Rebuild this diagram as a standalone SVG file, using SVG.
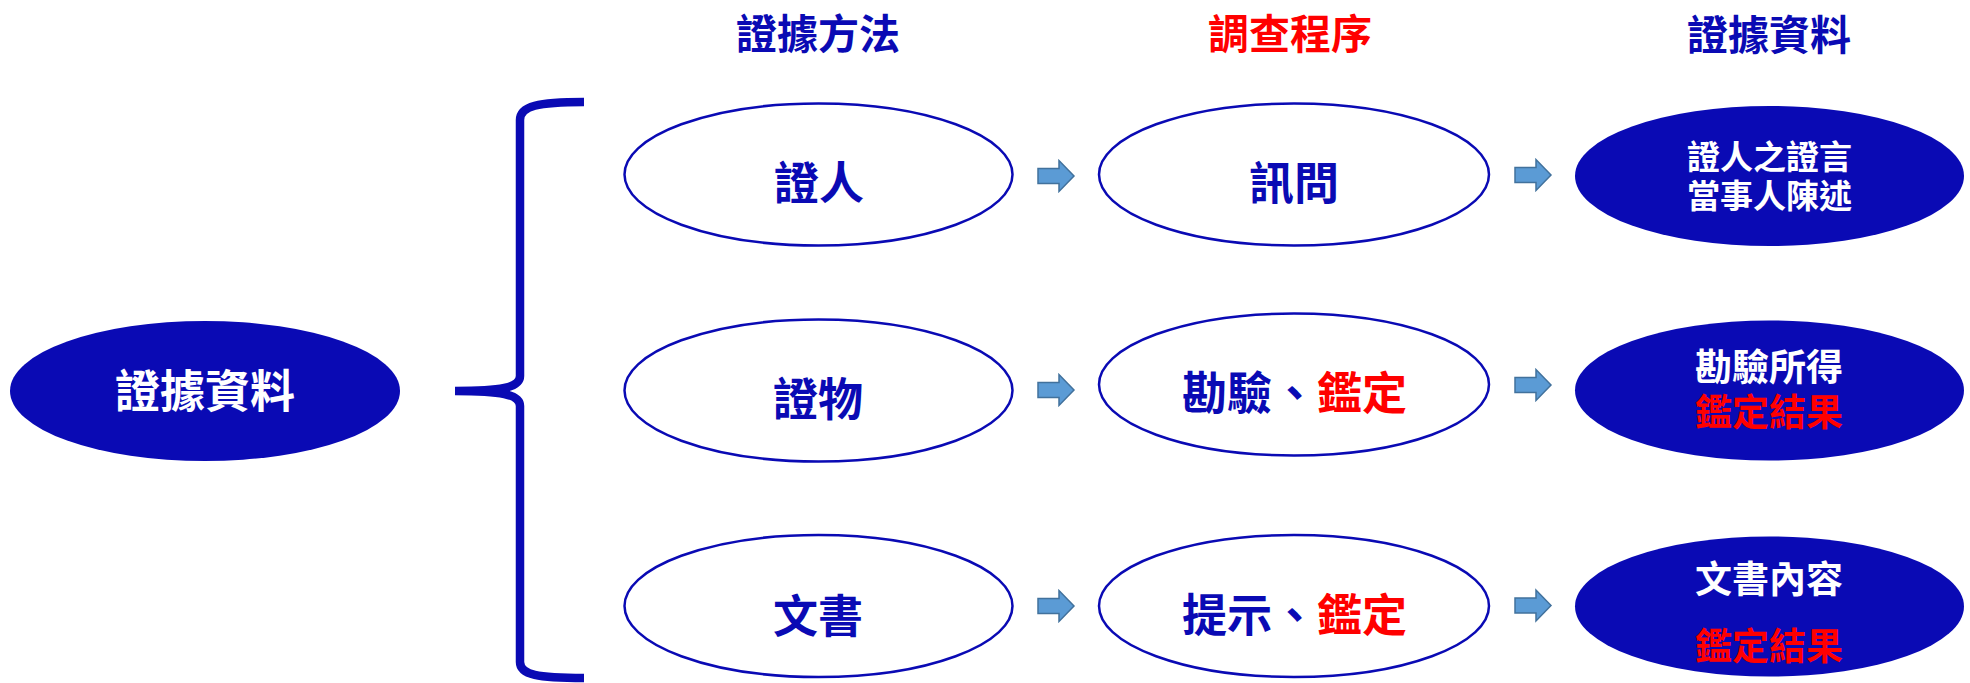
<svg xmlns="http://www.w3.org/2000/svg" xmlns:xlink="http://www.w3.org/1999/xlink" width="1970" height="683" viewBox="0 0 1970 683">
<style>
text{font-family:"Noto Sans CJK TC","Noto Sans CJK SC",sans-serif;font-weight:bold;text-anchor:middle}
.b{fill:#0a0ab4}
.r{fill:#ff0000}
.w{fill:#ffffff}
.o{fill:#ffffff;stroke:#0a0ab4;stroke-width:2.5}
.f{fill:#0a0ab4}
.h{font-size:41px}
.m{font-size:45px}
</style>
<defs>
<path id="arr" d="M0,-7.5 H21 V-15.5 L36,0 L21,15.5 V7.5 H0 Z" fill="#5b9bd5" stroke="#41719c" stroke-width="1.5"/>
</defs>
<rect width="1970" height="683" fill="#ffffff"/>
<g id="headings">
<text class="h b" x="818" y="49">證據方法</text>
<text class="h r" x="1290" y="49">調查程序</text>
<text class="h b" x="1769" y="50">證據資料</text>
</g>
<g id="root">
<ellipse class="f" cx="205" cy="391" rx="195" ry="70"/>
<text class="m w" x="205" y="408">證據資料</text>
</g>
<g id="connectors">
<path d="M584,102 C538,102 520,106 520,120 L520,376 C520,388 500,391 455,391 C500,391 520,394 520,406 L520,662 C520,675 538,678 584,678" fill="none" stroke="#0a0ab4" stroke-width="8.5"/>
<use xlink:href="#arr" x="1038" y="176"/>
<use xlink:href="#arr" x="1515" y="175"/>
<use xlink:href="#arr" x="1038" y="390"/>
<use xlink:href="#arr" x="1515" y="385"/>
<use xlink:href="#arr" x="1038" y="606"/>
<use xlink:href="#arr" x="1515" y="605.5"/>
</g>
<g id="witness">
<ellipse class="o" cx="818.5" cy="174.5" rx="194" ry="71"/>
<text class="m b" x="819" y="200">證人</text>
</g>
<g id="physical">
<ellipse class="o" cx="818.5" cy="390.5" rx="194" ry="71"/>
<text class="m b" x="818" y="416">證物</text>
</g>
<g id="document">
<ellipse class="o" cx="818.5" cy="606" rx="194" ry="71"/>
<text class="m b" x="818" y="633">文書</text>
</g>
<g id="interrogate">
<ellipse class="o" cx="1294" cy="174.5" rx="195" ry="71"/>
<text class="m b" x="1294" y="200">訊問</text>
</g>
<g id="inspect">
<ellipse class="o" cx="1294" cy="384.5" rx="195" ry="71"/>
<text class="m" x="1294.5" y="410"><tspan class="b">勘驗、</tspan><tspan class="r">鑑定</tspan></text>
</g>
<g id="present">
<ellipse class="o" cx="1294" cy="606" rx="195" ry="71"/>
<text class="m" x="1294.5" y="632"><tspan class="b">提示、</tspan><tspan class="r">鑑定</tspan></text>
</g>
<g id="testimony">
<ellipse class="f" cx="1769.5" cy="176" rx="194.5" ry="70"/>
<text class="w" x="1769.5" y="169" font-size="33">證人之證言</text>
<text class="w" x="1769.5" y="208" font-size="33">當事人陳述</text>
</g>
<g id="inspection-result">
<ellipse class="f" cx="1769.5" cy="390.5" rx="194.5" ry="70"/>
<text class="w" x="1769" y="381" font-size="37">勘驗所得</text>
<text class="r" x="1769" y="426" font-size="37">鑑定結果</text>
</g>
<g id="document-content">
<ellipse class="f" cx="1769.5" cy="606.5" rx="194.5" ry="70"/>
<text class="w" x="1769" y="593" font-size="37">文書內容</text>
<text class="r" x="1769" y="660" font-size="37">鑑定結果</text>
</g>
</svg>
